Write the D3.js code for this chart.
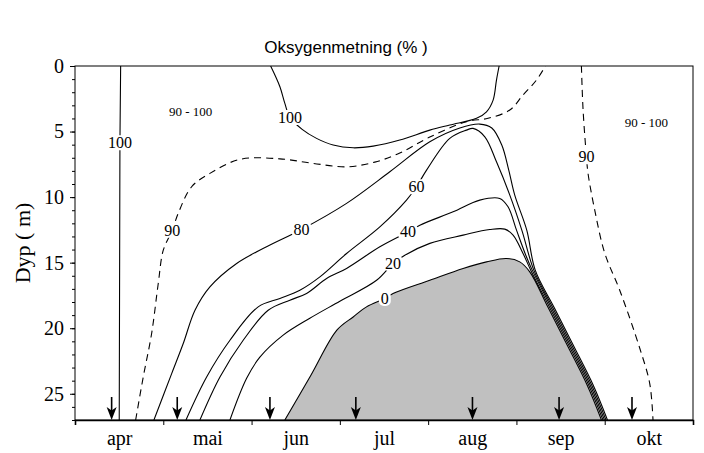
<!DOCTYPE html>
<html>
<head>
<meta charset="utf-8">
<script src="https://cdn.jsdelivr.net/npm/d3@7"></script>
<style>
  body { margin: 0; background: #fff; }
  svg { display: block; }
</style>
</head>
<body>
<svg id="chart" width="704" height="453"></svg>
<script>
// x is measured in months since 1 April, y is depth in metres
const months = ["apr", "mai", "jun", "jul", "aug", "sep", "okt"];
const depthTicks = [0, 5, 10, 15, 20, 25];
const maxDepth = 27;

// Sampling dates (months since 1 April)
const samplingDates = [0.415, 1.158, 2.208, 3.181, 4.502, 5.483, 6.309];

// Oxygen saturation isolines, points as [month, depth]
const iso100Spring = [[0.517, 0], [0.509, 5.85], [0.501, 27]];
const iso100Summer = [[2.216, 0], [2.321, 1.58], [2.377, 2.85], [2.434, 3.92], [2.573, 4.83],
  [2.736, 5.52], [2.924, 6.03], [3.151, 6.24], [3.377, 6.11], [3.679, 5.65], [4.019, 4.89],
  [4.245, 4.50], [4.548, 3.99], [4.661, 3.49], [4.736, 2.60], [4.774, 1.07], [4.804, 0]];
const iso90Spring = [[0.687, 27], [0.773, 23.72], [0.868, 20.40], [0.943, 16.59], [1.0, 14.05],
  [1.101, 12.52], [1.169, 11.24], [1.321, 9.21], [1.528, 8.19], [1.868, 7.12], [2.321, 7.08],
  [2.698, 7.43], [3.076, 7.69], [3.396, 7.33], [3.679, 6.64], [4.019, 5.42], [4.434, 4.25],
  [4.679, 3.99], [4.925, 3.36], [5.075, 2.21], [5.227, 1.07], [5.329, 0]];
const iso90Autumn = [[5.736, 0], [5.755, 3.36], [5.793, 6.92], [5.811, 8.19], [5.887, 10.99],
  [6.0, 14.27], [6.170, 17.10], [6.397, 21.53], [6.510, 24.22], [6.547, 27]];
const iso80 = [[0.894, 27], [1.095, 23.46], [1.226, 21.17], [1.359, 18.63], [1.528, 16.85],
  [1.831, 15.06], [2.170, 13.79], [2.566, 12.47], [3.076, 10.48], [3.566, 8.07], [4.019, 5.78],
  [4.359, 4.73], [4.585, 4.43], [4.721, 4.73], [4.834, 6.03], [4.913, 7.94], [4.981, 9.85],
  [5.117, 12.52], [5.213, 15.57], [5.426, 18.40], [5.644, 21.30], [5.870, 24.35], [6.031, 27]];
const iso60 = [[1.257, 27], [1.491, 23.72], [1.755, 20.92], [2.075, 18.37], [2.321, 17.73],
  [2.547, 17.10], [2.774, 16.08], [3.076, 14.30], [3.453, 12.27], [3.755, 10.23], [3.868, 9.21],
  [3.982, 7.94], [4.245, 5.52], [4.434, 4.89], [4.509, 4.76], [4.642, 5.40], [4.774, 7.31],
  [4.925, 9.85], [5.061, 12.52], [5.197, 15.57], [5.409, 18.40], [5.627, 21.30], [5.853, 24.35],
  [6.014, 27]];
const iso40 = [[1.415, 27], [1.642, 23.72], [1.905, 20.92], [2.188, 18.63], [2.434, 17.86],
  [2.623, 17.35], [2.850, 16.21], [3.076, 15.44], [3.453, 13.79], [3.773, 12.65], [3.906, 12.14],
  [4.283, 11.12], [4.585, 10.23], [4.811, 10.10], [4.905, 10.74], [5.001, 12.52], [5.106, 14.43],
  [5.179, 15.57], [5.392, 18.40], [5.610, 21.30], [5.836, 24.35], [5.997, 27]];
const iso20 = [[1.755, 27], [1.944, 23.82], [2.094, 22.21], [2.358, 20.53], [2.660, 19.24],
  [3.0, 17.94], [3.416, 16.34], [3.603, 15.06], [3.736, 14.43], [4.019, 13.53], [4.396, 12.90],
  [4.698, 12.47], [4.868, 12.44], [4.962, 12.90], [5.075, 14.30], [5.162, 15.57], [5.375, 18.40],
  [5.593, 21.30], [5.819, 24.35], [5.980, 27]];
const iso0 = [[2.377, 27], [2.672, 23.59], [2.966, 20.15], [3.151, 19.14], [3.302, 18.37],
  [3.509, 17.73], [3.603, 17.35], [4.019, 16.34], [4.396, 15.44], [4.661, 14.94], [4.887, 14.68],
  [5.038, 14.94], [5.151, 15.70], [5.358, 18.40], [5.576, 21.30], [5.802, 24.35], [5.963, 27]];

// Isoline labels: [text, month, depth]
const contourLabels = [["100", 0.509, 5.85], ["100", 2.434, 3.92], ["90", 1.101, 12.52],
  ["80", 2.566, 12.47], ["60", 3.868, 9.21], ["40", 3.773, 12.65], ["20", 3.603, 15.06],
  ["0", 3.509, 17.73], ["90", 5.793, 6.92]];
// Range labels: [text, month, depth]
const rangeLabels = [["90 - 100", 1.31, 3.49], ["90 - 100", 6.472, 4.30]];

const title = "Oksygenmetning (% )";
const yTitle = "Dyp ( m)";

const svg = d3.select("#chart");
const margin = { left: 75, right: 11, top: 66, bottom: 33 };
const W = 704, H = 453;

const x = d3.scaleLinear().domain([0, months.length]).range([margin.left, W - margin.right]);
const y = d3.scaleLinear().domain([0, maxDepth]).range([margin.top, H - margin.bottom]);

const serif = "'Liberation Serif', 'Times New Roman', serif";

svg.append("defs").append("clipPath").attr("id", "plot")
  .append("rect")
  .attr("x", x(0)).attr("y", y(0))
  .attr("width", x(months.length) - x(0)).attr("height", y(maxDepth) - y(0));

const plot = svg.append("g").attr("clip-path", "url(#plot)");

const curve = d3.curveCatmullRom.alpha(0.5);
const line = d3.line().x(d => x(d[0])).y(d => y(d[1])).curve(curve);

// anoxic zone (below the 0 % isoline)
plot.append("path")
  .attr("d", line(iso0) + "Z")
  .attr("fill", "#c0c0c0")
  .attr("stroke", "none");

const isolines = [
  { pts: iso100Spring, dashed: false, straight: true },
  { pts: iso100Summer, dashed: false },
  { pts: iso90Spring, dashed: true },
  { pts: iso90Autumn, dashed: true },
  { pts: iso80, dashed: false },
  { pts: iso60, dashed: false },
  { pts: iso40, dashed: false },
  { pts: iso20, dashed: false },
  { pts: iso0, dashed: false }
];
const straightLine = d3.line().x(d => x(d[0])).y(d => y(d[1]));

plot.selectAll("path.iso").data(isolines).join("path")
  .attr("class", "iso")
  .attr("d", d => (d.straight ? straightLine : line)(d.pts))
  .attr("fill", "none")
  .attr("stroke", "#000")
  .attr("stroke-width", 1.1)
  .attr("stroke-dasharray", d => d.dashed ? "7,5" : null);

// isoline labels with a white knock-out behind them
const lab = plot.append("g").selectAll("g").data(contourLabels).join("g")
  .attr("transform", d => `translate(${x(d[1])},${y(d[2])})`);
lab.append("text")
  .text(d => d[0])
  .attr("text-anchor", "middle")
  .attr("dy", "0.35em")
  .attr("font-family", serif)
  .attr("font-size", 16)
  .attr("fill", "#000");
lab.each(function () {
  const g = d3.select(this);
  const b = g.select("text").node().getBBox();
  g.insert("rect", "text")
    .attr("x", b.x - 2).attr("y", b.y + 1)
    .attr("width", b.width + 4).attr("height", b.height - 2)
    .attr("rx", 5)
    .attr("fill", "#fff");
});

plot.append("g").selectAll("text").data(rangeLabels).join("text")
  .attr("x", d => x(d[1])).attr("y", d => y(d[2]))
  .attr("dy", "0.35em")
  .attr("text-anchor", "middle")
  .attr("font-family", serif)
  .attr("font-size", 13)
  .text(d => d[0]);

// sampling arrows at the bottom
const yb = y(maxDepth);
const arrows = svg.append("g").selectAll("g").data(samplingDates).join("g")
  .attr("transform", d => `translate(${x(d)},${yb})`);
arrows.append("line")
  .attr("x1", 0).attr("x2", 0).attr("y1", -23).attr("y2", -8)
  .attr("stroke", "#000").attr("stroke-width", 1.6);
arrows.append("path")
  .attr("d", "M-5,-13 L0,-9.5 L5,-13 L0,0 Z")
  .attr("fill", "#000");

// frame
svg.append("rect")
  .attr("x", x(0)).attr("y", y(0))
  .attr("width", x(months.length) - x(0)).attr("height", y(maxDepth) - y(0))
  .attr("fill", "none").attr("stroke", "#000").attr("stroke-width", 1);

// y axis: major and minor ticks
const yAxis = svg.append("g").attr("transform", `translate(${x(0)},0)`)
  .call(d3.axisLeft(y).tickValues(depthTicks).tickSize(5).tickPadding(6));
yAxis.select(".domain").remove();
yAxis.selectAll("text").attr("font-family", serif).attr("font-size", 20).attr("fill", "#000");
const yMinor = svg.append("g").attr("transform", `translate(${x(0)},0)`)
  .call(d3.axisLeft(y).tickValues(d3.range(0, maxDepth + 1)).tickSize(3).tickFormat(""));
yMinor.select(".domain").remove();

// x axis: month boundaries and centred month names
const xAxis = svg.append("g").attr("transform", `translate(0,${yb})`)
  .call(d3.axisBottom(x).tickValues(d3.range(0, months.length + 1)).tickSize(5).tickFormat(""));
xAxis.select(".domain").attr("stroke-width", 1.6);
const xLabels = svg.append("g").attr("transform", `translate(0,${yb})`)
  .call(d3.axisBottom(x).tickValues(months.map((m, i) => i + 0.5)).tickSize(0)
    .tickFormat((d, i) => months[i]));
xLabels.select(".domain").remove();
xLabels.selectAll("text")
  .attr("y", 25).attr("dy", null)
  .attr("font-family", serif).attr("font-size", 20).attr("fill", "#000");

// titles
svg.append("text")
  .attr("x", 346).attr("y", 53)
  .attr("text-anchor", "middle")
  .attr("font-family", "'Liberation Sans', Arial, sans-serif")
  .attr("font-size", 17)
  .text(title);

svg.append("text")
  .attr("transform", `translate(30,${(y(0) + y(maxDepth)) / 2}) rotate(-90)`)
  .attr("text-anchor", "middle")
  .attr("font-family", serif)
  .attr("font-size", 22)
  .text(yTitle);
</script>
</body>
</html>
